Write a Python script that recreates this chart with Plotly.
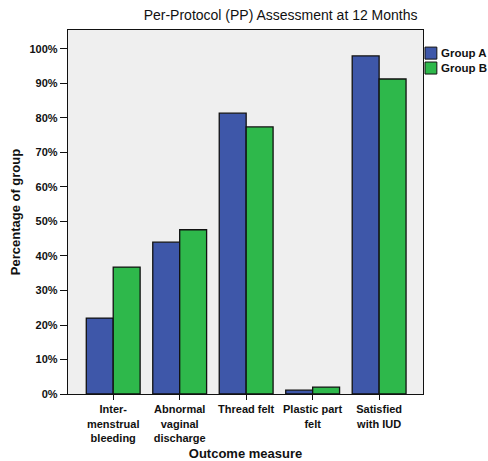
import plotly.graph_objects as go

categories = ["Inter-<br>menstrual<br>bleeding", "Abnormal<br>vaginal<br>discharge",
              "Thread felt", "Plastic part<br>felt", "Satisfied<br>with IUD"]
group_a = [22.0, 44.0, 81.4, 1.1, 98.0]
group_b = [36.8, 47.6, 77.4, 2.0, 91.3]
y_ticks = [0, 10, 20, 30, 40, 50, 60, 70, 80, 90, 100]
y_tick_text = [f"{v}%" for v in y_ticks]

FONT = "Liberation Sans, Arial, sans-serif"
BLUE = "#3E57A9"
GREEN = "#2EB84B"
EDGE = "#111111"

fig = go.Figure()
fig.add_trace(go.Bar(x=categories, y=group_a, name="Group A",
                     marker=dict(color=BLUE, line=dict(color=EDGE, width=1.3))))
fig.add_trace(go.Bar(x=categories, y=group_b, name="Group B",
                     marker=dict(color=GREEN, line=dict(color=EDGE, width=1.3))))

# legend drawn by hand so it sits tight against the plot like the SPSS original
legend_items = [("Group A", BLUE, 0.953), ("Group B", GREEN, 0.912)]
for name, col, top in legend_items:
    fig.add_shape(type="rect", xref="paper", yref="paper",
                  x0=1.0056, x1=1.039, y0=top - 0.033, y1=top,
                  fillcolor=col, line=dict(color=EDGE, width=1))
    fig.add_annotation(x=1.046, y=top - 0.0165, xref="paper", yref="paper",
                       text=name, showarrow=False, xanchor="left", yanchor="middle",
                       font=dict(size=11.5, family=FONT, weight="bold", color=EDGE))

fig.update_layout(
    width=488, height=461,
    barmode="group", bargap=0.19, bargroupgap=0,
    paper_bgcolor="#FFFFFF", plot_bgcolor="#EFEFEF",
    font=dict(family=FONT, color=EDGE),
    margin=dict(l=68, r=65, t=30, b=67, autoexpand=False),
    title=dict(text="Per-Protocol (PP) Assessment at 12 Months", x=0.575, xanchor="center",
               y=0.967, yanchor="middle", font=dict(size=14, color=EDGE)),
    showlegend=False,
    xaxis=dict(range=[-0.68, 4.66], showgrid=False, ticks="outside", ticklen=5,
               tickcolor=EDGE, showline=True, linecolor=EDGE, linewidth=1.3,
               mirror=True, tickangle=0, automargin=False,
               tickfont=dict(size=11, weight="bold"),
               title=dict(text="Outcome measure", font=dict(size=13, weight="bold"), standoff=12)),
    yaxis=dict(range=[0, 105.5], tickmode="array", tickvals=y_ticks, ticktext=y_tick_text,
               showgrid=False, automargin=False,
               ticks="outside", ticklen=7, tickcolor=EDGE, showline=True,
               linecolor=EDGE, linewidth=1.3, mirror=True, zeroline=False,
               tickfont=dict(size=11, weight="bold"),
               title=dict(text="Percentage of group", font=dict(size=13, weight="bold"), standoff=5)),
)

# drop the browser's default 8px body margin so the 488x461 figure fills the window
fig.write_html("out.html", config={"displayModeBar": False},
               post_script="document.body.style.margin = '0';")
